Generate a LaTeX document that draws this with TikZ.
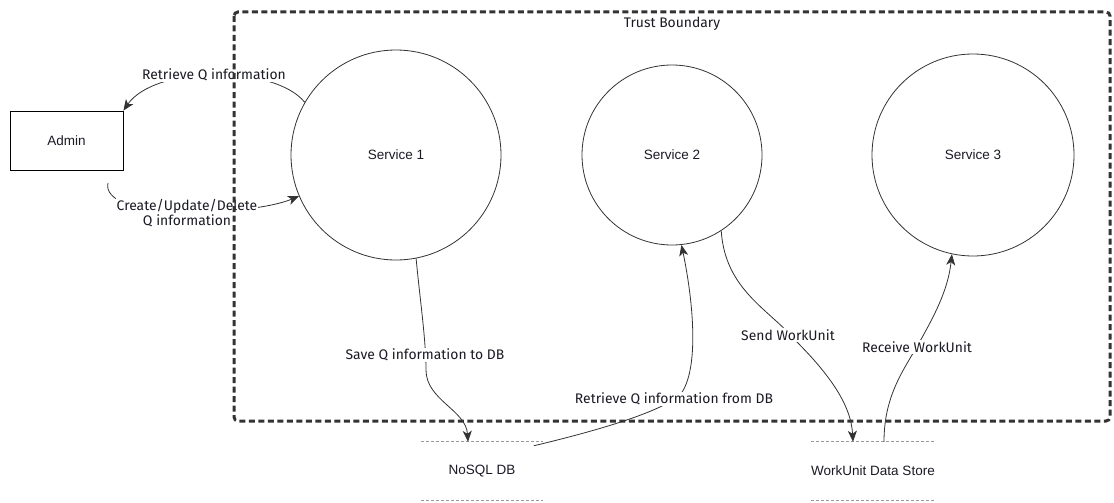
\documentclass[tikz,border=0pt]{standalone}
\usepackage{fontspec}
\setmainfont{Liberation Sans}
\newfontfamily\lblfont{Fira Sans}
\usetikzlibrary{arrows.meta}
\definecolor{ink}{HTML}{333333}
\definecolor{txt}{HTML}{1A1A24}
\definecolor{storegray}{HTML}{9A9A9A}
\begin{document}
\begin{tikzpicture}[x=1pt,y=-1pt,
  svc/.style={circle, draw=ink, line width=0.8pt, inner sep=0pt, text=txt,
    font=\fontsize{13.5}{16}\selectfont},
  actor/.style={rectangle, draw=black, line width=0.8pt, minimum width=113pt,
    minimum height=59pt, inner sep=0pt, text=txt, font=\fontsize{13.5}{16}\selectfont},
  store/.style={rectangle, minimum width=121pt, minimum height=58pt, inner sep=0pt,
    text=txt, font=\fontsize{13.5}{16}\selectfont},
  storeline/.style={draw=storegray, line width=0.8pt, dash pattern=on 3pt off 2pt},
  flow/.style={draw=ink, line width=0.8pt,
    -{Stealth[length=11pt,width=9pt,inset=3pt]}},
  flowlabel/.style={fill=white, inner sep=1pt, text=txt, align=center,
    font=\lblfont\fontsize{13.9}{14.5}\selectfont},
  boundary/.style={draw=ink, line width=3pt, dash pattern=on 6pt off 3.5pt,
    rounded corners=4pt},
]
\useasboundingbox (0,0) rectangle (1114,503);

% actors, processes and stores
\node[actor] (admin) at (66.5,140.5) {Admin};
\node[svc, minimum size=210pt] (s1) at (396,155) {Service 1};
\node[svc, minimum size=180pt] (s2) at (672,155) {Service 2};
\node[svc, minimum size=202pt] (s3) at (973,155) {Service 3};
\node[store] (db) at (482,471) {NoSQL DB};
\node[store] (ws) at (873,471) {WorkUnit Data Store};
\foreach \st in {db,ws}{
  \draw[storeline] (\st.north west) -- (\st.north east);
  \draw[storeline] (\st.south west) -- (\st.south east);
}
\coordinate (adminout) at (108,183);

% data flows
\draw[flow] (s1.150) .. controls (275,65) and (155,65) .. (admin.north east);
\draw[flow] (adminout) .. controls (104,200) and (135,212) .. (186,212)
  .. controls (240,212) and (275,206) .. (s1.203);
\draw[flow] (s1.281) .. controls (420,300) and (426,340) .. (426,370)
  .. controls (426,400) and (466,410) .. ([xshift=-14pt]db.north);
\draw[flow] ([xshift=-9pt,yshift=-4pt]db.north east) .. controls (600,430) and (660,412) .. (680,395)
  .. controls (700,370) and (693,300) .. (s2.276);
\draw[flow] (s2.303) .. controls (725,290) and (770,310) .. (795,340)
  .. controls (830,375) and (851,405) .. ([xshift=-20pt]ws.north);
\draw[flow] ([xshift=11pt]ws.north) .. controls (884,400) and (900,375) .. (915,350)
  .. controls (935,315) and (948,290) .. (s3.258);

% flow labels
\node[flowlabel] (l1) at (214,75) {Retrieve Q information};
\node[flowlabel] (l2) at (187,213) {Create/Update/Delete\\Q information};
\node[flowlabel] (l3) at (425,355) {Save Q information to DB};
\node[flowlabel] (l4) at (674,399) {Retrieve Q information from DB};
\node[flowlabel] (l5) at (788,335) {Send WorkUnit};
\node[flowlabel] (l6) at (917,347) {Receive WorkUnit};

% trust boundary
\draw[boundary] (234,12) rectangle (1110,421);
\node[text=txt, font=\lblfont\fontsize{13.9}{14.5}\selectfont] (tb) at (672,24) {Trust Boundary};
\end{tikzpicture}
\end{document}
